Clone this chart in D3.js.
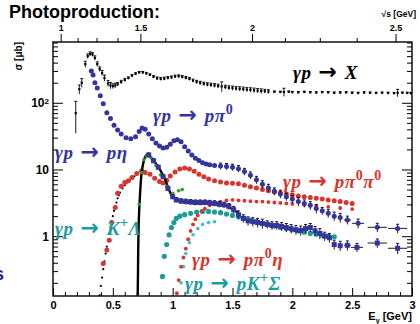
<!DOCTYPE html>
<html>
<head>
<meta charset="utf-8">
<script src="https://cdn.jsdelivr.net/npm/d3@7"></script>
<style>
  body { margin: 0; background: #fff; }
  svg { display: block; }
</style>
</head>
<body>
<svg id="chart" width="420" height="324"></svg>
<script>
// [E_gamma (GeV), sigma (mub), error, horizontal half-width]
const totalX = [
  [0.19, 70, 35], [0.22, 160, 25], [0.24, 200, 30], [0.27, 380, 40], [0.29, 500, 40], [0.31, 540, 40],
  [0.33, 530, 35], [0.35, 470, 35], [0.37, 380, 30], [0.39, 320, 25], [0.41, 280, 25], [0.43, 235, 25],
  [0.46, 195, 20], [0.48, 182, 20], [0.50, 178, 15], [0.52, 182, 15], [0.54, 190, 12], [0.57, 205, 12],
  [0.60, 220, 12], [0.63, 235, 10], [0.66, 255, 10], [0.69, 272, 10], [0.72, 285, 10], [0.75, 285, 10],
  [0.78, 275, 10], [0.81, 262, 10], [0.84, 245, 10], [0.87, 232, 12], [0.90, 228, 12], [0.93, 230, 12],
  [0.96, 236, 12], [0.99, 240, 12], [1.02, 248, 12], [1.05, 250, 12], [1.08, 245, 12], [1.11, 236, 12],
  [1.14, 228, 12], [1.17, 215, 12], [1.20, 205, 12], [1.23, 198, 12], [1.26, 192, 12], [1.29, 188, 12],
  [1.32, 185, 12], [1.35, 182, 12], [1.38, 178, 12], [1.41, 176, 30], [1.44, 172, 12], [1.47, 168, 12],
  [1.50, 166, 12], [1.53, 164, 12], [1.56, 162, 12], [1.59, 160, 12], [1.62, 158, 12], [1.65, 156, 12],
  [1.68, 154, 12], [1.71, 152, 12], [1.74, 150, 12], [1.77, 149, 10], [1.80, 147, 10], [1.85, 146, 4],
  [1.90, 145, 4], [1.93, 145, 20], [1.97, 146, 4], [2.00, 144, 4], [2.05, 143, 4], [2.10, 145, 4],
  [2.15, 143, 4], [2.20, 142, 4], [2.25, 144, 4], [2.30, 143, 4], [2.35, 141, 4], [2.40, 142, 4],
  [2.45, 143, 4], [2.50, 141, 4], [2.55, 140, 4], [2.60, 142, 4], [2.65, 141, 4], [2.70, 140, 4],
  [2.75, 141, 4], [2.80, 140, 4], [2.85, 139, 4], [2.88, 141, 18], [2.92, 141, 4], [2.96, 140, 4], [2.99, 139, 4]
];

const pPi0 = [
  [0.32, 300, 0], [0.335, 262, 0], [0.35, 200, 0], [0.37, 167, 0], [0.395, 127, 0], [0.42, 97, 0],
  [0.45, 71, 0], [0.48, 58, 0], [0.51, 46, 0], [0.54, 39, 0], [0.57, 34, 0], [0.61, 30, 0],
  [0.65, 29, 0], [0.69, 31, 0], [0.72, 37, 0], [0.745, 42, 0], [0.77, 40, 0], [0.80, 34, 0],
  [0.83, 29, 0], [0.86, 25, 0], [0.89, 22.5, 0], [0.92, 21, 0], [0.95, 21.5, 0], [0.98, 24, 0],
  [1.01, 27, 0], [1.04, 28, 0], [1.07, 26, 0], [1.10, 22, 0], [1.13, 19, 0], [1.16, 16.5, 0],
  [1.19, 14.8, 0], [1.22, 13.6, 0], [1.25, 12.6, 0], [1.28, 12.1, 0], [1.31, 11.8, 0], [1.35, 11.5, 0],
  [1.40, 11.3, 1.2], [1.45, 11.1, 1.2], [1.50, 10.8, 1.2], [1.55, 10.3, 1.2], [1.60, 9.3, 1.1],
  [1.65, 8.2, 1.0], [1.70, 7.0, 0.9], [1.75, 6.0, 0.8], [1.80, 5.3, 0.7], [1.85, 4.7, 0.6],
  [1.90, 4.3, 0.6], [1.95, 3.9, 0.5], [2.00, 3.6, 0.5], [2.05, 3.3, 0.5], [2.10, 3.1, 0.4],
  [2.15, 2.9, 0.4], [2.20, 2.6, 0.4], [2.25, 2.4, 0.3], [2.30, 2.2, 0.3], [2.35, 2.0, 0.3],
  [2.40, 1.9, 0.3], [2.46, 1.75, 0.25, 0.03], [2.55, 1.56, 0.25, 0.05], [2.71, 1.36, 0.2, 0.08],
  [2.88, 1.31, 0.2, 0.08]
];

const pEtaLine = [
  [0.708, 0.13], [0.709, 0.2], [0.710, 0.26], [0.711, 0.4], [0.712, 0.6], [0.714, 1.0], [0.716, 1.5],
  [0.72, 2.4], [0.725, 3.6], [0.73, 5.2], [0.735, 7.0], [0.74, 8.8], [0.75, 11.5], [0.76, 13.8],
  [0.77, 15.5], [0.78, 16.5], [0.79, 16.9], [0.80, 16.6], [0.81, 15.8], [0.82, 15], [0.83, 14],
  [0.85, 13], [0.87, 11.5], [0.89, 10.3], [0.91, 8.8], [0.93, 7.6], [0.94, 6.9], [0.96, 5.4],
  [0.98, 4.5], [1.00, 3.9], [1.03, 3.5], [1.06, 3.35], [1.10, 3.25], [1.15, 3.2], [1.20, 3.2],
  [1.25, 3.2], [1.30, 3.15], [1.35, 3.1], [1.40, 3.0], [1.45, 2.85], [1.50, 2.55], [1.55, 2.2]
];

const pEtaSq = [
  [0.80, 16.5, 1.2], [0.84, 13.5, 1.0], [0.88, 10.8, 0.8], [0.92, 7.8, 0.6], [0.96, 5.2, 0.4],
  [1.00, 3.9, 0.3], [1.03, 3.5, 0.3], [1.07, 3.35, 0.3], [1.11, 3.3, 0.3], [1.15, 3.25, 0.3],
  [1.19, 3.2, 0.3], [1.23, 3.2, 0.3], [1.27, 3.2, 0.3], [1.31, 3.15, 0.3], [1.35, 3.1, 0.3],
  [1.39, 3.0, 0.3], [1.43, 2.95, 0.3], [1.47, 2.8, 0.3], [1.51, 2.5, 0.3], [1.55, 2.1, 0.3],
  [1.59, 1.85, 0.25], [1.63, 1.7, 0.25], [1.67, 1.65, 0.25], [1.71, 1.6, 0.25], [1.75, 1.55, 0.25],
  [1.79, 1.5, 0.2], [1.83, 1.45, 0.2], [1.87, 1.45, 0.2], [1.91, 1.4, 0.2], [1.95, 1.35, 0.2],
  [1.99, 1.3, 0.2], [2.03, 1.25, 0.2], [2.07, 1.22, 0.2], [2.11, 1.3, 0.2], [2.15, 1.35, 0.2],
  [2.19, 1.2, 0.2], [2.23, 1.1, 0.2], [2.27, 1.0, 0.15], [2.31, 0.95, 0.15], [2.35, 0.75, 0.12],
  [2.40, 0.72, 0.12], [2.46, 0.73, 0.12, 0.03], [2.54, 0.68, 0.1, 0.05], [2.71, 0.79, 0.12, 0.08],
  [2.88, 0.66, 0.12, 0.08]
];

const pEtaGreen = [
  [0.72, 3.0], [0.74, 9.0], [0.76, 14], [0.78, 16], [0.82, 15], [0.86, 11.5], [0.90, 8.3],
  [0.95, 5.6], [1.00, 4.4], [1.05, 4.8], [1.08, 5.0]
];

const pPi0Pi0 = [
  [0.42, 0.39], [0.45, 0.62], [0.47, 0.87], [0.49, 1.6], [0.52, 2.7], [0.54, 4.4], [0.57, 5.6],
  [0.60, 6.4], [0.63, 6.8], [0.66, 7.6], [0.70, 8.7], [0.74, 9.5], [0.77, 9.0], [0.81, 8.5],
  [0.85, 7.4], [0.89, 6.6], [0.92, 6.3], [0.95, 6.9], [0.98, 8.0], [1.02, 9.2], [1.06, 10.2],
  [1.10, 10.5], [1.14, 10.2], [1.18, 9.4], [1.22, 8.5], [1.26, 7.8], [1.30, 7.2], [1.35, 6.8],
  [1.40, 6.5], [1.45, 6.3], [1.50, 6.2], [1.55, 6.1], [1.60, 5.8], [1.65, 5.5], [1.70, 5.3],
  [1.75, 5.0], [1.80, 4.8], [1.85, 4.6], [1.90, 4.5], [1.95, 4.3], [2.00, 4.2], [2.05, 4.0],
  [2.10, 3.9], [2.15, 3.8], [2.20, 3.7], [2.25, 3.6], [2.30, 3.5], [2.35, 3.4], [2.40, 3.3],
  [2.45, 3.2], [2.50, 3.1]
];

const pPi0Pi0Black = [
  [0.39, 0.13], [0.40, 0.18], [0.41, 0.24], [0.42, 0.32], [0.43, 0.42], [0.44, 0.55], [0.45, 0.7],
  [0.46, 0.88], [0.47, 1.1], [0.48, 1.35], [0.49, 1.65], [0.50, 2.0], [0.51, 2.4], [0.52, 2.8],
  [0.53, 3.2], [0.54, 3.7], [0.55, 4.1], [0.56, 4.5], [0.58, 5.2], [0.60, 5.8], [0.62, 6.4],
  [0.64, 6.9], [0.66, 7.4], [0.68, 7.9]
];

const pPi0Eta = [
  [1.035, 0.14], [1.05, 0.22], [1.07, 0.35], [1.09, 0.48], [1.11, 0.65], [1.13, 0.9], [1.15, 1.2],
  [1.17, 1.5], [1.19, 1.8], [1.21, 2.05], [1.24, 2.35], [1.27, 2.6], [1.31, 2.9], [1.35, 3.1],
  [1.40, 3.3], [1.45, 3.45], [1.50, 3.5], [1.55, 3.45], [1.60, 3.4], [1.65, 3.35], [1.70, 3.3],
  [1.75, 3.3], [1.80, 3.25], [1.85, 3.2], [1.90, 3.15], [1.95, 3.1], [2.00, 3.05], [2.10, 2.95],
  [2.20, 2.85], [2.30, 2.75], [2.40, 2.65], [2.50, 2.55]
];

const kLambda = [
  [0.915, 0.25], [0.93, 0.5], [0.95, 0.75], [0.97, 1.05], [0.99, 1.35], [1.01, 1.6], [1.03, 1.85],
  [1.06, 2.0], [1.10, 2.1], [1.15, 2.2], [1.20, 2.3], [1.25, 2.35], [1.30, 2.35], [1.35, 2.3],
  [1.40, 2.25], [1.45, 2.15], [1.50, 2.05], [1.55, 1.95], [1.60, 1.85], [1.65, 1.75], [1.70, 1.65],
  [1.75, 1.55], [1.80, 1.5], [1.85, 1.42], [1.90, 1.35], [1.95, 1.3], [2.00, 1.25], [2.05, 1.2],
  [2.10, 1.15], [2.15, 1.1], [2.20, 1.07], [2.25, 1.03], [2.30, 1.0], [2.35, 0.98]
];

const kSigma = [
  [1.07, 0.2], [1.09, 0.35], [1.11, 0.55], [1.14, 0.8], [1.17, 1.05], [1.21, 1.3], [1.25, 1.5],
  [1.30, 1.6], [1.35, 1.65]
];

const xMajor = [0, 0.5, 1, 1.5, 2, 2.5, 3];
const xLabels = ['0', '0.5', '1', '1.5', '2', '2.5', '3'];
const yMajor = [1, 10, 100];
const sqrtsMajor = [1, 1.5, 2, 2.5];
const sqrtsLabels = ['1', '1.5', '2', '2.5'];

const blue = '#34349f';
const red = '#d8352f';
const teal = '#1c9c9c';
const cyan = '#3cc0c0';
const green = '#2aa02a';

const svg = d3.select('#chart');
const L = 53, R = 412, T = 42, B = 296;

const x = d3.scaleLinear().domain([0, 3]).range([L, R]);
const y = d3.scaleLog().domain([0.127, 815]).range([B, T]);

// sqrt(s) -> E_gamma for the top axis
const mp = 0.938;
const egOf = (w) => (w * w - mp * mp) / (2 * mp);

svg.append('rect').attr('width', 420).attr('height', 324).attr('fill', '#fff');

svg.append('defs').append('clipPath').attr('id', 'clip')
  .append('rect').attr('x', L).attr('y', T).attr('width', R - L).attr('height', B - T);

// minor tick values
const xMinor = d3.range(0, 3.001, 0.1).filter(v => Math.abs(v * 2 - Math.round(v * 2)) > 1e-6);
const yMinor = [];
[0.1, 1, 10, 100].forEach(dec => {
  for (let k = 2; k <= 9; k++) {
    const v = dec * k;
    if (v > 0.127 && v < 815) yMinor.push(v);
  }
});
const sqrtsMinor = [1.125, 1.25, 1.375, 1.625, 1.75, 1.875, 2.125, 2.25, 2.375];

const axisStyle = g => {
  g.select('.domain').remove();
  g.selectAll('line').attr('stroke', '#000');
  g.selectAll('text').attr('font-family', 'Liberation Sans, Arial, sans-serif')
    .attr('font-weight', 'bold').attr('fill', '#000');
};

// bottom axis
svg.append('g').attr('transform', `translate(0,${B})`)
  .call(d3.axisBottom(x).tickValues(xMinor).tickSize(-4).tickFormat(''))
  .call(axisStyle);
svg.append('g').attr('transform', `translate(0,${B})`)
  .call(d3.axisBottom(x).tickValues(xMajor).tickSize(-8).tickPadding(5)
    .tickFormat((d, i) => xLabels[i]))
  .call(axisStyle)
  .call(g => g.selectAll('text').attr('font-size', 11));

// top axis (sqrt s)
svg.append('g').attr('transform', `translate(0,${T})`)
  .call(d3.axisTop(x).tickValues(sqrtsMinor.map(egOf)).tickSize(4).tickFormat(''))
  .call(axisStyle);
svg.append('g').attr('transform', `translate(0,${T})`)
  .call(d3.axisTop(x).tickValues(sqrtsMajor.map(egOf)).tickSize(8).tickPadding(3)
    .tickFormat((d, i) => sqrtsLabels[i]))
  .call(axisStyle)
  .call(g => g.selectAll('text').attr('font-size', 9));

// left axis
svg.append('g').attr('transform', `translate(${L},0)`)
  .call(d3.axisLeft(y).tickValues(yMinor).tickSize(-5).tickFormat(''))
  .call(axisStyle);
const yAx = svg.append('g').attr('transform', `translate(${L},0)`)
  .call(d3.axisLeft(y).tickValues(yMajor).tickSize(-10).tickPadding(4).tickFormat(d => d === 100 ? '10' : d3.format('d')(d)))
  .call(axisStyle);
yAx.selectAll('text').attr('font-size', 12);
yAx.selectAll('.tick').filter(d => d === 100).select('text')
  .append('tspan').attr('dy', '-0.45em').attr('font-size', 8).text('2');

// right axis
svg.append('g').attr('transform', `translate(${R},0)`)
  .call(d3.axisRight(y).tickValues(yMinor).tickSize(-5).tickFormat(''))
  .call(axisStyle);
svg.append('g').attr('transform', `translate(${R},0)`)
  .call(d3.axisRight(y).tickValues(yMajor).tickSize(-10).tickFormat(''))
  .call(axisStyle);

// frame
svg.append('rect').attr('x', L).attr('y', T).attr('width', R - L).attr('height', B - T)
  .attr('fill', 'none').attr('stroke', '#000').attr('stroke-width', 1.4);

// data
const plot = svg.append('g').attr('clip-path', 'url(#clip)');

const errBars = (data, color, w) => {
  const withErr = data.filter(d => d[2] > 0);
  plot.append('g').selectAll('line').data(withErr).join('line')
    .attr('x1', d => x(d[0])).attr('x2', d => x(d[0]))
    .attr('y1', d => y(Math.max(d[1] - d[2], 0.13))).attr('y2', d => y(d[1] + d[2]))
    .attr('stroke', color).attr('stroke-width', w);
  plot.append('g').selectAll('line').data(withErr).join('line')
    .attr('x1', d => x(d[0]) - 1.5).attr('x2', d => x(d[0]) + 1.5)
    .attr('y1', d => y(d[1] + d[2])).attr('y2', d => y(d[1] + d[2]))
    .attr('stroke', color).attr('stroke-width', w);
  plot.append('g').selectAll('line').data(data.filter(d => d[3])).join('line')
    .attr('x1', d => x(d[0] - d[3])).attr('x2', d => x(d[0] + d[3]))
    .attr('y1', d => y(d[1])).attr('y2', d => y(d[1]))
    .attr('stroke', color).attr('stroke-width', w);
};

const dots = (data, color, r) => {
  plot.append('g').selectAll('circle').data(data).join('circle')
    .attr('cx', d => x(d[0])).attr('cy', d => y(d[1])).attr('r', r).attr('fill', color);
};

const squares = (data, color, s) => {
  plot.append('g').selectAll('rect').data(data).join('rect')
    .attr('x', d => x(d[0]) - s / 2).attr('y', d => y(d[1]) - s / 2)
    .attr('width', s).attr('height', s).attr('fill', color);
};

// gamma p -> X
errBars(totalX, '#000', 0.9);
squares(totalX, '#000', 2.2);

// gamma p -> p pi0 pi0
dots(pPi0Pi0Black, '#000', 1.1);
dots(pPi0Pi0, red, 2.5);

// K Lambda, K Sigma
dots(kLambda, teal, 2.6);
dots(kSigma, cyan, 1.8);

// gamma p -> p pi0 eta
dots(pPi0Eta, '#000', 1.2);
dots(pPi0Eta, red, 1.9);

// gamma p -> p eta
plot.append('path').datum(pEtaLine)
  .attr('d', d3.line().x(d => x(d[0])).y(d => y(d[1])))
  .attr('fill', 'none').attr('stroke', '#000').attr('stroke-width', 2.4);
dots(pEtaGreen, green, 1.8);
errBars(pEtaSq, '#000', 0.9);
squares(pEtaSq, blue, 5);

// gamma p -> p pi0
errBars(pPi0, '#000', 0.9);
dots(pPi0, blue, 2.5);

// titles
svg.append('text').attr('x', 9).attr('y', 18)
  .attr('font-family', 'Liberation Sans, Arial, sans-serif').attr('font-weight', 'bold')
  .attr('font-size', 18).text('Photoproduction:');

svg.append('text').attr('x', 416).attr('y', 17).attr('text-anchor', 'end')
  .attr('font-family', 'Liberation Sans, Arial, sans-serif').attr('font-weight', 'bold')
  .attr('font-size', 8.5).text('√s [GeV]');

const xt = svg.append('text').attr('x', R).attr('y', 320).attr('text-anchor', 'end')
  .attr('font-family', 'Liberation Sans, Arial, sans-serif').attr('font-weight', 'bold')
  .attr('font-size', 11);
xt.append('tspan').text('E');
xt.append('tspan').attr('dy', 3).attr('font-size', 7).text('γ');
xt.append('tspan').attr('dy', -3).text(' [GeV]');

svg.append('text').attr('transform', `translate(22,${T}) rotate(-90)`).attr('text-anchor', 'end')
  .attr('font-family', 'Liberation Sans, Arial, sans-serif').attr('font-weight', 'bold')
  .attr('font-size', 10).text('σ [μb]');

// reaction labels
const reaction = (x0, y0, color, parts) => {
  const t = svg.append('text').attr('x', x0).attr('y', y0).attr('fill', color)
    .attr('font-family', 'Liberation Serif, DejaVu Serif, serif')
    .attr('font-style', 'italic').attr('font-weight', 'bold').attr('font-size', 19)
    .attr('letter-spacing', 0.6);
  t.append('tspan').text('γp');
  t.append('tspan').attr('dx', 7).attr('font-style', 'normal').attr('font-family', 'DejaVu Sans')
    .attr('font-weight', 'bold').attr('font-size', 22).text('→');
  let first = true;
  parts.forEach(p => {
    const s = t.append('tspan').text(p.t);
    if (first) { s.attr('dx', 7); first = false; }
    if (p.sup) s.attr('dy', -8).attr('font-size', 14).attr('font-style', 'normal');
    if (p.back) s.attr('dy', 8);
  });
};

reaction(293, 79, '#000', [{ t: 'X' }]);
reaction(153, 122, blue, [{ t: 'pπ' }, { t: '0', sup: true }]);
reaction(55, 159, blue, [{ t: 'pη' }]);
reaction(55, 235, teal, [{ t: 'K' }, { t: '+', sup: true }, { t: 'Λ', back: true }]);
reaction(283, 188, red, [{ t: 'pπ' }, { t: '0', sup: true }, { t: 'π', back: true }, { t: '0', sup: true }]);
reaction(192, 266, red, [{ t: 'pπ' }, { t: '0', sup: true }, { t: 'η', back: true }]);
reaction(185, 290, teal, [{ t: 'pK' }, { t: '+', sup: true }, { t: 'Σ', back: true }]);

// cut-off letter at the left edge
svg.append('text').attr('x', -6).attr('y', 280).attr('fill', '#1c1c8c')
  .attr('font-family', 'Liberation Sans, Arial, sans-serif').attr('font-weight', 'bold')
  .attr('font-size', 18).text('s');
</script>
</body>
</html>
